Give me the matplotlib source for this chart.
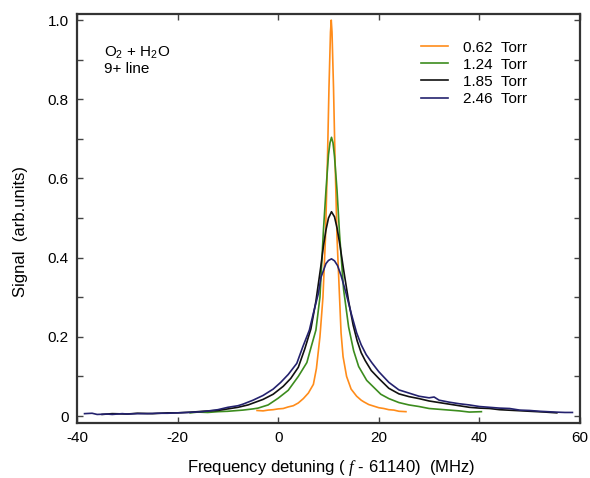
import matplotlib
matplotlib.use("Agg")
import matplotlib.pyplot as plt

plt.rcParams['font.family'] = ['Liberation Sans', 'DejaVu Sans']
plt.rcParams['mathtext.fontset'] = 'custom'
plt.rcParams['mathtext.it'] = 'Liberation Serif:italic'
plt.rcParams['mathtext.rm'] = 'Liberation Sans'
plt.rcParams['axes.unicode_minus'] = False

# ---- data ----
labels = ['0.62  Torr', '1.24  Torr', '1.85  Torr', '2.46  Torr']
colors = ['#ff8c1a', '#3c8c1e', '#111111', '#24226e']

x_062 = [-4.2, -3, -2, -1, 0, 1, 2, 3, 4, 5, 6, 7, 7.6, 8.3, 8.9, 9.4, 9.8, 10.1, 10.4,
         10.55, 10.7, 11.0, 11.3, 11.7, 12.2, 12.5, 12.9, 13.6, 14.5, 15.6, 16.5, 17, 18,
         19, 20, 21, 22, 23, 24, 25.4]
y_062 = [0.014, 0.013, 0.015, 0.016, 0.018, 0.019, 0.023, 0.026, 0.033, 0.044, 0.058, 0.08,
         0.12, 0.2, 0.3, 0.45, 0.65, 0.83, 0.97, 1.0, 0.97, 0.83, 0.65, 0.45, 0.3, 0.21,
         0.15, 0.1, 0.068, 0.05, 0.04, 0.036, 0.029, 0.025, 0.021, 0.019, 0.016, 0.015,
         0.012, 0.011]

x_124 = [-17.5, -16, -14, -12, -10, -8, -7, -5, -4, -2, 0, 2, 4, 5.7, 6.5, 7.5, 8.3, 9.0,
         9.5, 10.0, 10.3, 10.6, 10.9, 11.2, 11.7, 12.2, 13.0, 14.0, 15.0, 16.0, 17.6, 20.4,
         22, 24, 26, 28, 30, 32, 34, 36, 38, 40.4]
y_124 = [0.008, 0.01, 0.009, 0.011, 0.012, 0.014, 0.015, 0.018, 0.02, 0.028, 0.045, 0.065,
         0.1, 0.135, 0.172, 0.217, 0.3, 0.47, 0.57, 0.66, 0.69, 0.704, 0.69, 0.655, 0.57,
         0.46, 0.32, 0.225, 0.165, 0.125, 0.09, 0.055, 0.044, 0.034, 0.028, 0.024, 0.019,
         0.017, 0.015, 0.013, 0.01, 0.011]

x_185 = [-35, -33, -30, -28, -25, -22, -20, -17, -15, -12, -10, -8, -6, -3, -1, 1, 2.5, 4,
         5.3, 6.5, 7.5, 8.5, 9.0, 9.5, 10, 10.6, 11.2, 11.7, 12.3, 13, 14, 14.9, 15.7, 16.5,
         17.3, 18.5, 20, 22, 24, 26, 28, 30, 32, 34, 36, 38, 40, 42, 44, 47, 50, 53, 55.4]
y_185 = [0.004, 0.006, 0.005, 0.007, 0.006, 0.008, 0.008, 0.01, 0.012, 0.014, 0.018, 0.022,
         0.028, 0.042, 0.055, 0.075, 0.095, 0.123, 0.17, 0.22, 0.29, 0.38, 0.43, 0.47, 0.5,
         0.516, 0.503, 0.475, 0.43, 0.37, 0.29, 0.23, 0.19, 0.16, 0.14, 0.115, 0.095, 0.07,
         0.056, 0.049, 0.044, 0.038, 0.034, 0.03, 0.026, 0.022, 0.02, 0.019, 0.016, 0.014,
         0.012, 0.01, 0.008]

x_246 = [-38.5, -37, -36, -34, -33, -31, -30, -28, -26, -24, -22, -20, -18, -15, -12, -10,
         -8, -7, -5, -3, -1, 0.5, 2, 3.7, 4.9, 6.2, 7, 8, 8.5, 9.5, 10, 10.6, 11.2, 11.8,
         12.5, 13.5, 14.5, 15.6, 16.5, 17.5, 18.6, 20, 22, 24, 26, 28, 30, 31, 32, 34, 36,
         38, 40, 42, 44, 46, 48, 50, 52, 55, 57, 58.5]
y_246 = [0.006, 0.007, 0.004, 0.005, 0.004, 0.006, 0.005, 0.006, 0.006, 0.007, 0.007,
         0.008, 0.009, 0.011, 0.016, 0.022, 0.026, 0.03, 0.04, 0.052, 0.068, 0.085, 0.105,
         0.133, 0.175, 0.217, 0.26, 0.31, 0.35, 0.385, 0.393, 0.397, 0.392, 0.38, 0.355,
         0.31, 0.26, 0.21, 0.18, 0.155, 0.135, 0.112, 0.085, 0.066, 0.058, 0.05, 0.046,
         0.048, 0.04, 0.035, 0.031, 0.028, 0.024, 0.022, 0.02, 0.019, 0.015, 0.014, 0.012,
         0.01, 0.009, 0.009]

series = [(x_062, y_062), (x_124, y_124), (x_185, y_185), (x_246, y_246)]

fig = plt.figure(figsize=(5.9, 4.78), dpi=100)
ax = fig.add_axes([0.1305, 0.115, 0.8525, 0.8555])

for (xs, ys), lab, col in zip(series, labels, colors):
    ax.plot(xs, ys, color=col, linewidth=1.2, label=lab)

ax.set_xlim(-40, 60)
ax.set_ylim(-0.0177, 1.0152)
ax.set_xticks([-40, -20, 0, 20, 40, 60])
yt = [0, 0.1, 0.2, 0.3, 0.4, 0.5, 0.6, 0.7, 0.8, 0.9, 1.0]
ax.set_yticks(yt)
ax.set_yticklabels(['0', '', '0.2', '', '0.4', '', '0.6', '', '0.8', '', '1.0'])

for s in ax.spines.values():
    s.set_linewidth(1.6)
    s.set_color('#333333')
ax.tick_params(direction='in', length=4, width=1, color='#444444',
               top=True, right=True, labelsize=11, pad=6)

ax.set_xlabel(r'Frequency detuning ( $\mathit{f}$ - 61140)  (MHz)', fontsize=12)
ax.xaxis.set_label_coords(0.505, -0.085)
ax.set_ylabel('Signal  (arb.units)', fontsize=12)
ax.yaxis.set_label_coords(-0.097, 0.469)

ax.text(-34.6, 0.918, r'O$_2$ + H$_2$O', fontsize=11, va='center')
ax.text(-34.6, 0.876, '9+ line', fontsize=11, va='center')

ax.legend(loc='upper left', bbox_to_anchor=(0.684, 0.935), frameon=False,
          fontsize=11, handlelength=1.75, handletextpad=1.0, labelspacing=0.2,
          borderpad=0, borderaxespad=0)

plt.savefig('out.png', dpi=100)
